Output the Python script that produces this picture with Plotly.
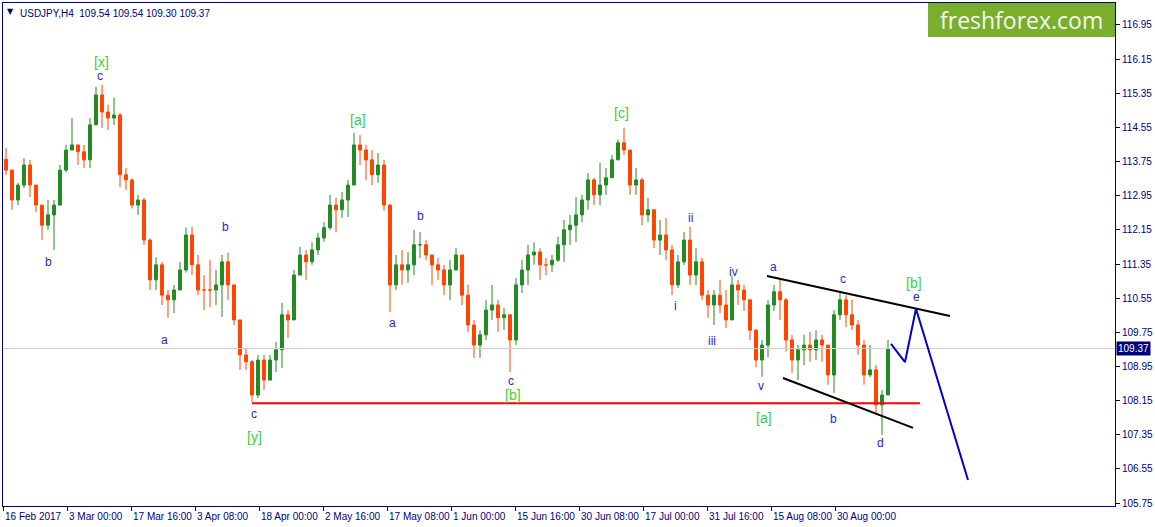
import plotly.graph_objects as go

# ---------------- data ----------------
open_first = 113.80
highs = [114.07, 113.55, 113.25, 113.83, 113.79, 113.20, 112.73, 112.85, 112.85, 113.67,
         114.14, 114.77, 114.14, 114.14, 114.77, 115.50, 115.55, 115.08, 115.25, 114.89,
         113.60, 113.35, 112.97, 112.90, 111.95, 111.51, 111.40, 110.74, 110.86, 111.40,
         112.20, 112.22, 111.56, 111.09, 111.44, 111.21, 111.56, 111.61, 110.86, 110.04,
         109.38, 109.10, 109.22, 109.22, 109.22, 109.52, 110.44, 110.27, 111.21, 111.75,
         111.68, 111.86, 112.08, 112.33, 112.97, 112.90, 113.04, 113.32, 114.42, 114.37,
         114.14, 114.02, 113.95, 113.79, 112.75, 111.56, 111.68, 111.63, 112.15, 112.10,
         111.91, 111.56, 111.49, 111.33, 111.44, 111.72, 111.56, 110.86, 110.04, 109.80,
         110.51, 110.86, 110.51, 110.32, 110.16, 111.02, 111.44, 111.80, 111.86, 111.72,
         111.49, 111.56, 111.99, 112.38, 112.50, 112.92, 112.97, 113.48, 113.37, 113.72,
         113.60, 113.90, 114.26, 114.54, 114.02, 113.60, 113.37, 112.90, 112.50, 112.38,
         112.43, 111.80, 111.56, 112.10, 112.22, 111.72, 111.49, 110.74, 110.74, 110.98,
         110.74, 111.07, 110.98, 110.86, 110.51, 109.82, 109.57, 110.51, 110.86, 110.98,
         110.55, 109.69, 109.45, 109.69, 109.76, 109.80, 109.69, 109.45, 110.27, 110.67,
         110.62, 110.51, 110.04, 109.57, 109.45, 108.98, 108.40, 109.57]
lows = [113.44, 112.62, 112.73, 113.13, 112.92, 112.57, 111.91, 112.15, 111.68, 112.73,
        113.50, 114.02, 113.67, 113.60, 113.60, 114.61, 114.54, 114.49, 114.61, 113.15,
        113.08, 112.65, 112.50, 111.80, 110.74, 110.74, 110.39, 110.09, 110.20, 110.74,
        111.15, 111.09, 110.62, 110.27, 110.34, 110.39, 110.11, 110.51, 109.92, 108.87,
        108.87, 108.12, 108.21, 108.40, 108.63, 108.82, 108.91, 109.62, 110.04, 111.09,
        110.98, 111.33, 111.56, 111.87, 112.15, 112.10, 112.43, 112.45, 113.20, 113.67,
        113.32, 113.20, 113.25, 112.60, 110.22, 110.74, 110.86, 110.91, 111.09, 111.49,
        111.44, 110.86, 110.98, 110.62, 110.51, 111.21, 110.39, 109.75, 109.15, 109.15,
        109.57, 110.04, 109.76, 109.80, 108.82, 109.45, 110.67, 110.86, 111.33, 110.98,
        111.09, 111.16, 111.40, 111.40, 111.80, 111.86, 112.33, 112.62, 112.73, 112.73,
        112.97, 113.37, 113.79, 113.90, 112.97, 112.97, 112.26, 112.33, 111.72, 111.56,
        111.44, 110.62, 110.79, 111.33, 110.86, 110.86, 110.51, 110.09, 109.92, 110.20,
        109.85, 110.04, 110.39, 110.25, 109.57, 108.93, 108.71, 109.17, 110.25, 110.04,
        109.30, 108.80, 108.63, 108.98, 109.06, 109.10, 109.06, 108.52, 108.33, 110.04,
        109.87, 109.80, 109.22, 108.52, 108.70, 107.81, 107.34, 108.28]
closes = [113.55, 112.85, 113.20, 113.67, 113.20, 112.73, 112.26, 112.50, 112.73, 113.55,
          114.02, 114.14, 113.98, 113.79, 114.61, 115.31, 114.91, 114.77, 114.84, 113.44,
          113.32, 112.73, 112.85, 111.91, 110.98, 111.33, 110.62, 110.51, 110.74, 111.21,
          112.03, 111.33, 110.74, 110.74, 110.74, 110.86, 111.40, 110.86, 110.04, 109.22,
          109.06, 108.28, 109.10, 108.63, 109.10, 109.34, 110.16, 110.04, 111.09, 111.56,
          111.40, 111.68, 111.96, 112.20, 112.73, 112.62, 112.85, 113.20, 114.14, 114.02,
          113.79, 113.44, 113.67, 112.73, 110.86, 111.33, 111.21, 111.33, 111.80, 111.80,
          111.56, 111.33, 111.21, 110.86, 111.21, 111.56, 110.62, 109.92, 109.45, 109.69,
          110.27, 110.39, 110.09, 110.16, 109.57, 110.86, 111.21, 111.56, 111.63, 111.33,
          111.33, 111.44, 111.80, 112.15, 112.26, 112.50, 112.85, 113.32, 112.97, 113.20,
          113.37, 113.79, 114.19, 114.02, 113.20, 113.32, 112.50, 112.62, 111.91, 112.03,
          111.68, 110.86, 111.40, 111.91, 111.09, 111.40, 110.62, 110.39, 110.62, 110.39,
          110.04, 110.86, 110.74, 110.51, 109.80, 109.10, 109.45, 110.39, 110.70, 110.51,
          109.57, 109.10, 109.34, 109.45, 109.34, 109.57, 109.45, 108.75, 110.16, 110.51,
          110.16, 109.92, 109.45, 108.75, 108.87, 108.05, 108.28, 109.37]

bars_per_day = 6  # H4 bars in one trading day
tick_bars = [0, 64, 128, 192, 256, 320, 384, 448, 512, 576, 640, 704, 768, 832]
tick_labels = ["16 Feb 2017", "3 Mar 00:00", "17 Mar 16:00", "3 Apr 08:00", "18 Apr 00:00",
               "2 May 16:00", "17 May 08:00", "1 Jun 00:00", "15 Jun 16:00", "30 Jun 08:00",
               "17 Jul 00:00", "31 Jul 16:00", "15 Aug 08:00", "30 Aug 00:00"]
y_ticks = [116.95, 116.15, 115.35, 114.55, 113.75, 112.95, 112.15, 111.35,
           110.55, 109.75, 108.95, 108.15, 107.35, 106.55, 105.75]
last_price = 109.37
header = "USDJPY,H4  109.54 109.54 109.30 109.37"

# wave labels: bar position, price, text
wave_x = [98, 97, 45, 161, 222, 251, 251, 355, 389, 417, 508, 510, 618, 687, 672, 709, 730, 758, 770, 761, 830, 840, 877, 911, 913]
wave_y = [116.08, 115.75, 111.40, 109.57, 112.22, 107.84, 107.30, 114.72, 109.97, 112.48, 108.61, 108.28, 114.89,
          112.43, 110.37, 109.55, 111.16, 108.49, 111.28, 107.74, 107.72, 111.00, 107.16, 110.90, 110.57]
wave_t = ["[x]", "c", "b", "a", "b", "c", "[y]", "[a]", "a", "b", "c", "[b]", "[c]",
          "ii", "i", "iii", "iv", "v", "a", "[a]", "b", "c", "d", "[b]", "e"]

support_x = [249, 917]
support_y = [108.09, 108.09]
upper_x = [764, 947]
upper_y = [111.07, 110.13]
lower_x = [780, 910]
lower_y = [108.68, 107.51]
proj_x = [888, 902, 913, 965]
proj_y = [109.48, 109.05, 110.30, 106.29]

# ---------------- figure ----------------
opens = [open_first] + closes[:-1]
xs = [bars_per_day * i + bars_per_day / 2 for i in range(len(closes))]

NAVY = "#00007f"
GREEN_LBL = "#3ccf3c"
BLUE_LBL = "#1f1fe0"
FONT = "Liberation Sans, Arial"

fig = go.Figure()
fig.add_trace(go.Candlestick(
    x=xs, open=opens, high=highs, low=lows, close=closes,
    increasing=dict(line=dict(color="#228b22", width=1), fillcolor="#228b22"),
    decreasing=dict(line=dict(color="#ff4500", width=1), fillcolor="#ff4500"),
    whiskerwidth=0, hoverinfo="skip", showlegend=False))

fig.add_trace(go.Scatter(x=[0, 1112], y=[last_price, last_price], mode="lines",
                         line=dict(color="#d0d0d0", width=1), hoverinfo="skip", showlegend=False))
fig.add_trace(go.Scatter(x=support_x, y=support_y, mode="lines",
                         line=dict(color="#ff0000", width=2), hoverinfo="skip", showlegend=False))
fig.add_trace(go.Scatter(x=upper_x, y=upper_y, mode="lines",
                         line=dict(color="#000000", width=2), hoverinfo="skip", showlegend=False))
fig.add_trace(go.Scatter(x=lower_x, y=lower_y, mode="lines",
                         line=dict(color="#000000", width=2), hoverinfo="skip", showlegend=False))
fig.add_trace(go.Scatter(x=proj_x, y=proj_y, mode="lines",
                         line=dict(color="#0000cd", width=2), hoverinfo="skip", showlegend=False))

annotations = []
for x, y, t in zip(wave_x, wave_y, wave_t):
    green = t.startswith("[")
    annotations.append(dict(x=x, y=y, text=t, showarrow=False, xanchor="center", yanchor="middle",
                            font=dict(family=FONT, size=14 if green else 12,
                                      color=GREEN_LBL if green else BLUE_LBL)))
for xb, lab in zip(tick_bars, tick_labels):
    annotations.append(dict(x=xb, xref="x", y=0, yref="paper", yshift=-3, text=lab, showarrow=False,
                            xanchor="left", yanchor="top",
                            font=dict(family=FONT, size=10, color=NAVY)))
annotations.append(dict(x=1, xref="paper", y=last_price, yref="y", text=str(last_price), showarrow=False,
                        xanchor="left", yanchor="middle", xshift=1, bgcolor="#000080", borderpad=1,
                        font=dict(family=FONT, size=10, color="#ffffff")))
annotations.append(dict(x=0, xref="paper", y=1, yref="paper", xshift=15, yshift=-3, text=header,
                        showarrow=False, xanchor="left", yanchor="top",
                        font=dict(family=FONT, size=10, color=NAVY)))
annotations.append(dict(x=0, xref="paper", y=1, yref="paper", xshift=2, yshift=-2, text="▼",
                        showarrow=False, xanchor="left", yanchor="top",
                        font=dict(family="DejaVu Sans", size=8, color=NAVY)))
annotations.append(dict(x=0.9155, xref="paper", y=0.966, yref="paper", text="freshforex.com",
                        showarrow=False, xanchor="center", yanchor="middle",
                        font=dict(family="Open Sans", size=23, color="#f4f8ee")))

fig.update_layout(
    width=1155, height=527,
    margin=dict(l=3, r=40, t=3, b=21, autoexpand=False),
    paper_bgcolor="white", plot_bgcolor="white",
    hovermode=False,
    annotations=annotations,
    shapes=[dict(type="rect", xref="paper", yref="paper", x0=0.8318, x1=1, y0=0.9324, y1=1,
                 fillcolor="#7aaf2e", line=dict(width=0), layer="above")],
    xaxis=dict(range=[0, 1112], rangeslider=dict(visible=False), showgrid=False, zeroline=False,
               tickvals=tick_bars, ticks="outside", ticklen=4, tickcolor=NAVY, showticklabels=False,
               showline=True, linecolor=NAVY, linewidth=1, mirror=True),
    yaxis=dict(range=[105.68, 117.465], side="right", showgrid=False, zeroline=False,
               tickvals=y_ticks, ticktext=[f"{v:.2f}" for v in y_ticks],
               ticks="outside", ticklen=4, tickcolor=NAVY,
               tickfont=dict(family=FONT, size=10, color=NAVY),
               showline=True, linecolor=NAVY, linewidth=1, mirror=True),
)

fig.write_html("out.html", config={"displayModeBar": False},
               post_script="document.body.style.margin='0';document.body.style.overflow='hidden';")
